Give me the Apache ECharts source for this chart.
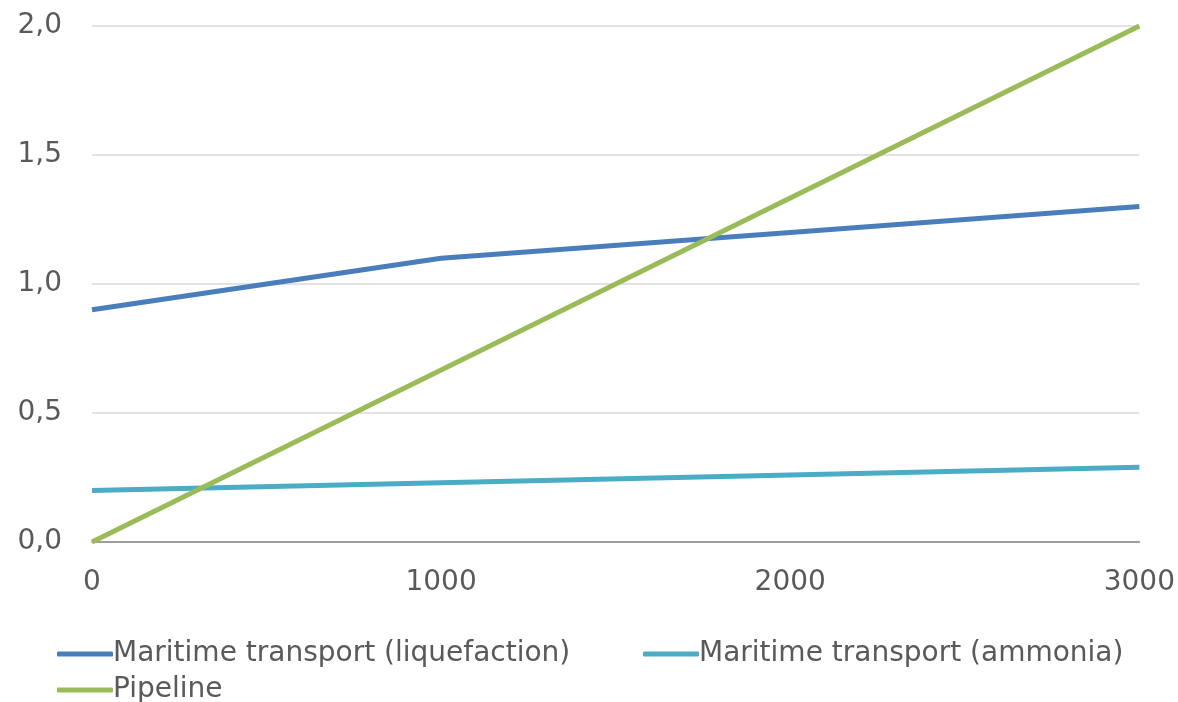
<!DOCTYPE html>
<html>
<head>
<meta charset="utf-8">
<script src="https://cdn.jsdelivr.net/npm/echarts@6/dist/echarts.min.js"></script>
<style>
  html, body { margin: 0; padding: 0; background: #fff; }
  #chart { width: 1178px; height: 702px; }
</style>
</head>
<body>
<div id="chart"></div>
<script>
  // distance values on the x axis
  const distances = [0, 1000, 2000, 3000];
  const liquefaction = [0.9, 1.1, 1.2, 1.3];
  const ammonia = [0.2, 0.23, 0.26, 0.29];
  const pipeline = [0, 0.667, 1.333, 2.0];
  const seriesNames = ['Maritime transport (liquefaction)', 'Maritime transport (ammonia)', 'Pipeline'];
  const colors = ['#4a7ebb', '#4bacc6', '#9bbb59'];

  const font = 'DejaVu Sans';
  const textColor = '#595959';

  function pairs (vals) {
    return distances.map((d, i) => [d, vals[i]]);
  }

  const legendBase = {
    icon: 'roundRect',
    itemWidth: 56,
    itemHeight: 5,
    itemGap: 5,
    textStyle: { color: textColor, fontSize: 28, fontFamily: font, padding: [0, 0, 0, -5] }
  };

  const chart = echarts.init(document.getElementById('chart'));
  chart.setOption({
    animation: false,
    color: colors,
    grid: { left: 92, right: 37, top: 26, bottom: 160 },
    legend: [
      Object.assign({ data: [seriesNames[0]], left: 52, top: 635 }, legendBase),
      Object.assign({ data: [seriesNames[1]], left: 638, top: 635 }, legendBase),
      Object.assign({ data: [seriesNames[2]], left: 52, top: 671 }, legendBase)
    ],
    xAxis: {
      type: 'value',
      min: 0,
      max: 3000,
      interval: 1000,
      axisLine: { show: true, lineStyle: { color: '#868686', width: 1.5 } },
      axisTick: { show: false },
      splitLine: { show: false },
      axisLabel: {
        color: textColor, fontSize: 28, fontFamily: font, margin: 27,
        formatter: v => String(v)
      }
    },
    yAxis: {
      type: 'value',
      min: 0,
      max: 2,
      interval: 0.5,
      axisLine: { show: false },
      axisTick: { show: false },
      splitLine: { lineStyle: { color: '#d9d9d9', width: 1.5 } },
      axisLabel: {
        color: textColor, fontSize: 28, fontFamily: font, margin: 30,
        formatter: v => v.toFixed(1).replace('.', ',')
      }
    },
    series: [
      { name: seriesNames[0], type: 'line', data: pairs(liquefaction), showSymbol: false, lineStyle: { width: 5 } },
      { name: seriesNames[1], type: 'line', data: pairs(ammonia), showSymbol: false, lineStyle: { width: 5 } },
      { name: seriesNames[2], type: 'line', data: pairs(pipeline), showSymbol: false, lineStyle: { width: 5 } }
    ]
  });
</script>
</body>
</html>
